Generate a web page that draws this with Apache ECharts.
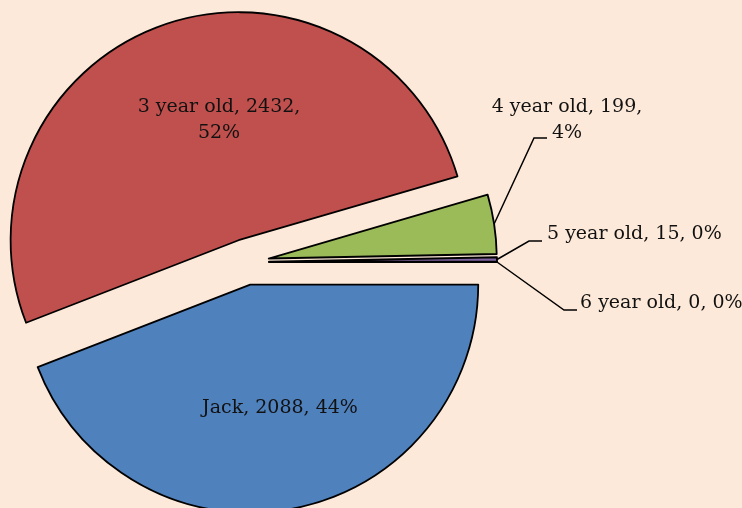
<!DOCTYPE html>
<html>
<head>
<meta charset="utf-8">
<script src="https://cdn.jsdelivr.net/npm/echarts@6/dist/echarts.min.js"></script>
<style>
  html, body { margin: 0; padding: 0; background: #fde9d9; }
  #chart { width: 742px; height: 508px; }
</style>
</head>
<body>
<div id="chart"></div>
<script>
const categories = ['Jack', '3 year old', '4 year old', '5 year old', '6 year old'];
const values = [2088, 2432, 199, 15, 0];
const sliceColors = ['#4f81bd', '#c0504d', '#9bbb59', '#8064a2', '#4bacc6'];
// labels that wrap onto a second line before the percent
const wrapped = [false, true, true, false, false];

// label layout: [x, y, align, line end x, line end y] (line end only for outside labels)
const labelSpots = [
  [280, 408, 'center'],
  [219, 120, 'center'],
  [567, 120, 'center', 547, 138],
  [547, 234, 'left', 542, 241],
  [580, 303, 'left', 577, 310]
];

const pieCenter = [246, 262];
const pieRadius = 228;
const explode = 23;

function initChart() {
  let myChart = echarts.init(document.getElementById('chart'));

  // the exploded slices
  let sliceData = categories.map(function (name, i) {
    return {
      name: name,
      value: values[i],
      selected: true,
      itemStyle: { color: sliceColors[i] }
    };
  });

  // a transparent twin pie that only carries the labels and their leader lines
  let labelData = categories.map(function (name, i) {
    let spot = labelSpots[i];
    return {
      name: name,
      value: values[i],
      label: {
        formatter: wrapped[i] ? '{b}, {c},\n{d}%' : '{b}, {c}, {d}%',
        position: spot.length > 3 ? 'outside' : 'inside'
      },
      labelLine: { show: spot.length > 3 }
    };
  });

  let option = {
    backgroundColor: '#fde9d9',
    animation: false,
    series: [
      {
        type: 'pie',
        center: pieCenter,
        radius: pieRadius,
        startAngle: 0,
        clockwise: true,
        selectedMode: 'multiple',
        selectedOffset: explode,
        itemStyle: {
          borderColor: '#000',
          borderWidth: 1.8
        },
        emphasis: { disabled: true },
        label: { show: false },
        labelLine: { show: false },
        data: sliceData
      },
      {
        type: 'pie',
        center: pieCenter,
        radius: pieRadius + explode,
        startAngle: 0,
        clockwise: true,
        silent: true,
        z: 5,
        percentPrecision: 0,
        avoidLabelOverlap: false,
        itemStyle: {
          color: 'transparent',
          borderWidth: 0
        },
        emphasis: { disabled: true },
        label: {
          show: true,
          position: 'outside',
          color: '#111',
          fontFamily: 'DejaVu Serif',
          fontSize: 19,
          lineHeight: 26
        },
        labelLine: {
          show: true,
          length: 20,
          length2: 13,
          lineStyle: { color: '#000', width: 1.5 }
        },
        labelLayout: function (params) {
          let spot = labelSpots[params.dataIndex];
          let out = { x: spot[0], y: spot[1], align: spot[2], verticalAlign: 'middle' };
          if (spot.length > 3 && params.labelLinePoints) {
            let start = params.labelLinePoints[0];
            out.labelLinePoints = [
              [start[0], start[1]],
              [spot[3] - 13, spot[4]],
              [spot[3], spot[4]]
            ];
          }
          return out;
        },
        data: labelData
      }
    ]
  };

  myChart.setOption(option);
  return myChart;
}

initChart();
</script>
</body>
</html>
